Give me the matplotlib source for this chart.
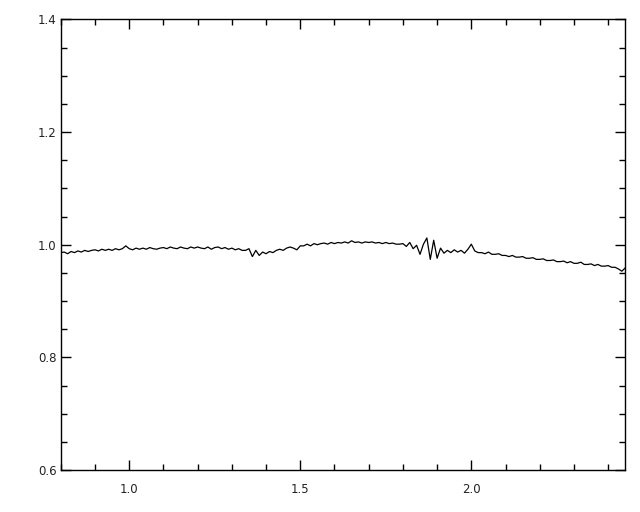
import matplotlib
matplotlib.use("Agg")
import matplotlib.pyplot as plt
import numpy as np
from matplotlib.ticker import MultipleLocator

# wavelength grid (microns), 0.01 steps from 0.80 to 2.45
wave = np.round(np.arange(0.80, 2.4501, 0.01), 2)

# normalised flux, one row per 0.1 micron
flux = [
    0.986, 0.987, 0.984, 0.988, 0.986, 0.989, 0.987, 0.990, 0.988, 0.990,
    0.991, 0.989, 0.992, 0.990, 0.992, 0.990, 0.993, 0.991, 0.993, 0.998,
    0.993, 0.991, 0.994, 0.992, 0.994, 0.992, 0.995, 0.993, 0.992, 0.994,
    0.995, 0.993, 0.996, 0.994, 0.993, 0.996, 0.994, 0.993, 0.996, 0.994,
    0.996, 0.994, 0.993, 0.996, 0.992, 0.995, 0.996, 0.993, 0.995, 0.992,
    0.994, 0.991, 0.993, 0.990, 0.990, 0.993, 0.979, 0.990, 0.981, 0.987,
    0.984, 0.988, 0.986, 0.990, 0.992, 0.990, 0.994, 0.996, 0.994, 0.991,
    0.998, 0.998, 1.001, 0.998, 1.002, 1.000, 1.002, 1.003, 1.001, 1.004,
    1.002, 1.004, 1.003, 1.005, 1.003, 1.007, 1.004, 1.005, 1.003, 1.005,
    1.004, 1.005, 1.003, 1.004, 1.002, 1.004, 1.002, 1.003, 1.001, 1.001,
    1.002, 0.997, 1.004, 0.993, 0.999, 0.983, 1.001, 1.012, 0.974, 1.008,
    0.976, 0.994, 0.985, 0.990, 0.986, 0.991, 0.987, 0.990, 0.985, 0.992,
    1.001, 0.989, 0.986, 0.986, 0.984, 0.987, 0.983, 0.983, 0.984, 0.981,
    0.981, 0.979, 0.981, 0.978, 0.978, 0.979, 0.976, 0.976, 0.977, 0.974,
    0.974, 0.975, 0.972, 0.972, 0.973, 0.970, 0.970, 0.971, 0.968, 0.970,
    0.967, 0.967, 0.969, 0.965, 0.965, 0.966, 0.963, 0.965, 0.962, 0.962,
    0.963, 0.960, 0.960, 0.957, 0.953, 0.959,
]

fig = plt.figure(figsize=(6.4, 5.12), dpi=100)
ax = fig.add_axes([0.095, 0.082, 0.882, 0.880])

ax.plot(wave[:len(flux)], flux, color="black", lw=0.9)

ax.set_xlim(0.80, 2.45)
ax.set_ylim(0.6, 1.4)
ax.xaxis.set_major_locator(MultipleLocator(0.5))
ax.xaxis.set_minor_locator(MultipleLocator(0.1))
ax.yaxis.set_major_locator(MultipleLocator(0.2))
ax.yaxis.set_minor_locator(MultipleLocator(0.05))

ax.tick_params(which="both", direction="in", top=True, right=True,
               width=1.0, labelsize=8.5, labelcolor="#222222")
ax.tick_params(which="major", length=7.5)
ax.tick_params(which="minor", length=4)
ax.tick_params(axis="x", pad=9)
ax.tick_params(axis="y", pad=3)

for s in ax.spines.values():
    s.set_linewidth(1.0)

fig.savefig("out.png", dpi=100)
